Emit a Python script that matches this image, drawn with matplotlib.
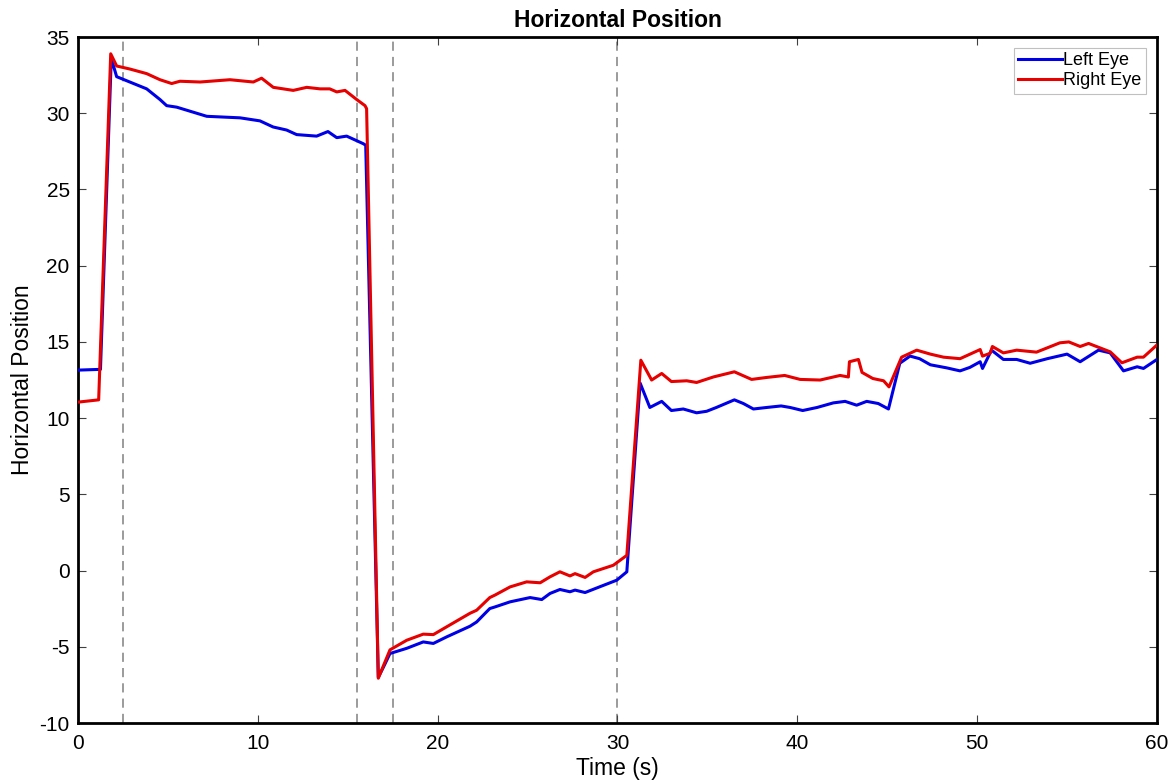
import numpy as np
import matplotlib.pyplot as plt

plt.rcParams['font.family'] = ['Liberation Sans', 'DejaVu Sans']
plt.rcParams['axes.unicode_minus'] = False

# datos (tiempo en s, posicion horizontal)
t_left = [0.0, 1.25, 1.85, 2.15, 3.82, 4.56, 4.93, 5.49, 7.16, 9.01, 10.12, 10.85, 11.6, 12.16,
          13.27, 13.9, 14.39, 14.94, 15.87, 16.0, 16.7, 17.0, 17.35, 18.28, 19.2, 19.76, 20.5,
          21.8, 22.17, 22.9, 23.2, 24.03, 25.14, 25.79, 26.25, 26.8, 27.36, 27.64, 28.2, 29.0,
          29.96, 30.52, 31.26, 31.8, 32.46, 33.0, 33.66, 34.4, 34.96, 35.5, 36.5, 37.0, 37.56,
          38.3, 39.1, 39.6, 40.3, 41.1, 42.0, 42.66, 43.3, 43.86, 44.5, 45.07, 45.7, 46.27, 46.8,
          47.4, 48.3, 49.05, 49.6, 50.17, 50.3, 50.8, 51.46, 52.2, 52.95, 53.9, 55.0, 55.73,
          56.75, 57.4, 58.14, 58.9, 59.25, 60.0]
left_eye = [13.15, 13.2, 33.6, 32.4, 31.6, 30.9, 30.5, 30.4, 29.8, 29.7, 29.5, 29.1, 28.9, 28.6,
            28.5, 28.8, 28.4, 28.5, 28.0, 27.9, -7.0, -6.3, -5.44, -5.1, -4.68, -4.78, -4.35,
            -3.65, -3.37, -2.49, -2.38, -2.05, -1.77, -1.9, -1.5, -1.24, -1.39, -1.28, -1.44, -1.07,
            -0.63, -0.08, 12.3, 10.7, 11.1, 10.5, 10.6, 10.35, 10.45, 10.7, 11.2, 10.96, 10.6,
            10.7, 10.8, 10.7, 10.5, 10.7, 11.0, 11.1, 10.85, 11.1, 10.96, 10.6, 13.6, 14.07, 13.9,
            13.5, 13.3, 13.1, 13.33, 13.7, 13.26, 14.46, 13.85, 13.85, 13.6, 13.9, 14.2, 13.7,
            14.46, 14.28, 13.1, 13.37, 13.26, 13.85]

t_right = [0.0, 1.15, 1.82, 2.15, 2.89, 3.82, 4.56, 5.21, 5.67, 6.79, 8.45, 9.75, 10.21, 10.86,
           11.97, 12.72, 13.46, 14.0, 14.39, 14.85, 15.5, 15.96, 16.05, 16.7, 17.0, 17.35, 18.28,
           19.2, 19.76, 20.5, 21.8, 22.17, 22.9, 23.2, 24.03, 24.95, 25.7, 26.25, 26.8, 27.36,
           27.64, 28.2, 28.66, 29.77, 30.52, 31.3, 31.9, 32.46, 33.0, 33.85, 34.4, 35.33, 36.5,
           37.46, 38.3, 39.3, 40.16, 41.27, 42.38, 42.84, 42.9, 43.4, 43.6, 44.2, 44.8, 45.1,
           45.8, 46.64, 47.4, 48.13, 49.05, 50.17, 50.3, 50.72, 50.85, 51.46, 52.2, 53.3, 54.6,
           55.1, 55.73, 56.2, 57.4, 58.05, 58.9, 59.25, 60.0]
right_eye = [11.05, 11.2, 33.9, 33.1, 32.9, 32.6, 32.2, 31.95, 32.1, 32.05, 32.2, 32.05, 32.3,
             31.7, 31.5, 31.7, 31.6, 31.6, 31.4, 31.5, 30.9, 30.5, 30.3, -7.06, -6.2, -5.2, -4.57,
             -4.17, -4.2, -3.69, -2.8, -2.6, -1.77, -1.6, -1.07, -0.74, -0.8, -0.41, -0.08, -0.35,
             -0.2, -0.45, -0.08, 0.35, 1.0, 13.8, 12.5, 12.93, 12.4, 12.45, 12.34, 12.7, 13.04,
             12.54, 12.67, 12.8, 12.54, 12.5, 12.8, 12.7, 13.7, 13.85, 13.0, 12.6, 12.45, 12.05,
             14.0, 14.46, 14.2, 14.0, 13.9, 14.5, 14.07, 14.25, 14.7, 14.28, 14.46, 14.33, 14.94,
             15.0, 14.7, 14.9, 14.35, 13.63, 14.0, 14.0, 14.8]

# instantes marcados con lineas discontinuas
eventos = [2.5, 15.5, 17.5, 30.0]

fig = plt.figure(figsize=(11.71, 7.83), dpi=100)
ax = fig.add_axes([0.0666, 0.0766, 0.9214, 0.8761])

for e in eventos:
    ax.axvline(e, color='#808080', linestyle=(0, (6, 4)), linewidth=1.1, zorder=1)

ax.plot(t_left, left_eye, color='#0000e6', linewidth=2.2, label='Left Eye', zorder=3)
ax.plot(t_right, right_eye, color='#e60000', linewidth=2.2, label='Right Eye', zorder=3)

ax.set_xlim(0, 60)
ax.set_ylim(-10, 35)
ax.set_xticks(np.arange(0, 61, 10))
ax.set_yticks(np.arange(-10, 36, 5))
ax.tick_params(direction='in', top=True, right=True, labelsize=15, length=6, width=0.8,
               color='#404040')
ax.tick_params(axis='x', pad=8)
ax.tick_params(axis='y', pad=6)
for s in ax.spines.values():
    s.set_linewidth(2.0)

ax.set_xlabel('Time (s)', fontsize=16.5, labelpad=3)
ax.set_ylabel('Horizontal Position', fontsize=16.5, labelpad=4)
ax.set_title('Horizontal Position', fontsize=16.5, fontweight='bold', pad=7)

leg = ax.legend(loc='upper right', fontsize=13, fancybox=False, framealpha=1,
                edgecolor='#c0c0c0', handlelength=2.4, handletextpad=0.1,
                borderpad=0.25, labelspacing=0.15, borderaxespad=0.6)
leg.get_frame().set_linewidth(0.8)

fig.savefig('out.png', dpi=100)
